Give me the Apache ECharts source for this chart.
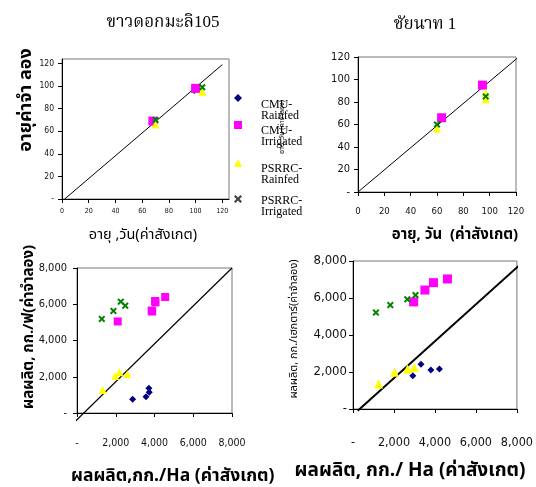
<!DOCTYPE html>
<html><head><meta charset="utf-8">
<script src="https://cdn.jsdelivr.net/npm/echarts@6/dist/echarts.min.js"></script>
<style>html,body{margin:0;padding:0;background:#fff}#c{width:536px;height:487px}</style>
</head><body><div id="c"></div>
<script>
// ---------- DATA ----------
const seriesNames = ['CMU-Rainfed', 'CMU-Irrigated', 'PSRRC-Rainfed', 'PSRRC-Irrigated'];
const legendLines = [['CMU-', 'Rainfed'], ['CMU-', 'Irrigated'], ['PSRRC-', 'Rainfed'], ['PSRRC-', 'Irrigated']];

// Age (days), ขาวดอกมะลิ105 : [observed, simulated]
const ageKDML_cmuRainfed = [[69, 68], [99, 96]];
const ageKDML_cmuIrrigated = [[68, 69], [100, 98]];
const ageKDML_psrrcRainfed = [[70, 66], [105, 95]];
const ageKDML_psrrcIrrigated = [[70, 70], [105, 99]];
const ageKDML_line = [[2, 0], [120, 119]];

// Age (days), ชัยนาท 1
const ageCN_cmuRainfed = [];
const ageCN_cmuIrrigated = [[63.5, 66], [94.5, 95]];
const ageCN_psrrcRainfed = [[60, 56.5], [97, 82.5], [97, 88]];
const ageCN_psrrcIrrigated = [[60, 60], [97, 85]];
const ageCN_line = [[0, 0], [122, 120]];

// Yield (kg/ha), ขาวดอกมะลิ105
const yldKDML_cmuRainfed = [[2870, 760], [3560, 900], [3710, 1360], [3730, 1140]];
const yldKDML_cmuIrrigated = [[2100, 5050], [3850, 5650], [3880, 5600], [4050, 6100], [4030, 6180], [4550, 6400]];
const yldKDML_psrrcRainfed = [[1330, 1270], [1970, 2040], [2190, 2250], [2600, 2140]];
const yldKDML_psrrcIrrigated = [[1280, 5190], [1880, 5630], [2260, 6140], [2490, 5920]];
const yldKDML_line = [[-400, -780], [8000, 8000]];

// Yield (kg/ha), ชัยนาท 1
const yldCN_cmuRainfed = [[2920, 1800], [3320, 2420], [3800, 2110], [4220, 2160]];
const yldCN_cmuIrrigated = [[2960, 5790], [3510, 6430], [3930, 6830], [4610, 7030]];
const yldCN_psrrcRainfed = [[1250, 1350], [2030, 1990], [2660, 2160], [2990, 2250]];
const yldCN_psrrcIrrigated = [[1120, 5210], [1820, 5620], [2650, 5930], [3050, 6160]];
const yldCN_line = [[230, -90], [8080, 7730]];

const ageTicks = [0, 20, 40, 60, 80, 100, 120];
const yieldTicks = [0, 2000, 4000, 6000, 8000];

// ---------- STYLE ----------
const NARROW = "'Liberation Sans Narrow','Arial Narrow','DejaVu Sans Condensed',sans-serif";
const THAI = "'Noto Sans Thai','Noto Sans Thai UI','Loma','Garuda','Noto Sans',sans-serif";
const SERIF = "'Liberation Serif','Noto Serif Thai','Noto Serif',serif";
const COLORS = ['#000080', '#ff00ff', '#ffff00', '#008000'];
const SYMBOLS = ['diamond', 'rect', 'triangle', 'path://M0,2L2,0L5,3L8,0L10,2L7,5L10,8L8,10L5,7L2,10L0,8L3,5Z'];
const SIZES = [[7, 9, 8, 7], [7, 9, 8, 7], [7, 8, 8, 7], [7, 9, 9, 7]];

const fmtAge = (dash) => v => (v === 0 && dash) ? '-' : String(v);
const fmtYield = v => v === 0 ? '-' : v.toLocaleString('en-US');

function mkAxis(grid, max, ticks, fmt, size, margin) {
  return {
    type: 'value', gridIndex: grid, min: 0, max: max,
    splitLine: { show: false },
    axisLine: { onZero: false, lineStyle: { color: '#000', width: 1 } },
    axisTick: { customValues: ticks, length: 4, lineStyle: { color: '#000' } },
    axisLabel: { customValues: ticks, formatter: fmt, fontFamily: NARROW, fontSize: size, color: '#111', margin: margin }
  };
}

const groups = [
  [ageKDML_cmuRainfed, ageKDML_cmuIrrigated, ageKDML_psrrcRainfed, ageKDML_psrrcIrrigated, ageKDML_line, 1],
  [ageCN_cmuRainfed, ageCN_cmuIrrigated, ageCN_psrrcRainfed, ageCN_psrrcIrrigated, ageCN_line, 1],
  [yldKDML_cmuRainfed, yldKDML_cmuIrrigated, yldKDML_psrrcRainfed, yldKDML_psrrcIrrigated, yldKDML_line, 1.2],
  [yldCN_cmuRainfed, yldCN_cmuIrrigated, yldCN_psrrcRainfed, yldCN_psrrcIrrigated, yldCN_line, 2]
];

const series = [];
groups.forEach((g, gi) => {
  series.push({
    type: 'line', xAxisIndex: gi, yAxisIndex: gi, data: g[4], symbol: 'none', clip: false,
    lineStyle: { color: '#000', width: g[5] }, silent: true, z: 1
  });
  for (let k = 0; k < 4; k++) {
    series.push({
      type: 'scatter', name: seriesNames[k], xAxisIndex: gi, yAxisIndex: gi, data: g[k],
      symbol: SYMBOLS[k], symbolSize: SIZES[gi][k],
      itemStyle: { color: COLORS[k], opacity: 1 }, z: 2 + k
    });
  }
});

const legendY = [98, 125, 163, 199];
const legends = seriesNames.map((n, k) => ({
  data: [k === 3 ? { name: n, itemStyle: { color: '#444' } } : n],
  left: 234, top: legendY[k] - 4, itemWidth: 8, itemHeight: 8,
  formatter: () => '', textStyle: { fontSize: 1 }, padding: 0, itemGap: 0
}));

const graphics = [];
function txt(x, y, text, font, size, weight, rot, align) {
  graphics.push({
    type: 'text', x: x, y: y, rotation: rot || 0,
    style: { text: text, fontFamily: font, fontSize: size, fontWeight: weight || 'normal', fill: '#000',
             align: align || 'center', verticalAlign: 'middle' }
  });
}
txt(163, 23, 'ขาวดอกมะลิ105', SERIF, 17);
txt(425, 25, 'ชัยนาท 1', SERIF, 17);
txt(143, 236, 'อายุ ,วัน(ค่าสังเกต)', THAI, 14.5);
txt(455, 236, 'อายุ, วัน  (ค่าสังเกต)', THAI, 15, 'bold');
txt(27, 100, 'อายุค่าจำ ลอง', THAI, 18, 'bold', Math.PI / 2);
txt(283, 127, 'อายุ, วัน (ค่าจำลอง)', THAI, 7, 'normal', Math.PI / 2);
txt(30, 327, 'ผลผลิต, กก./ฟ(ค่าจำลอง)', THAI, 15, 'bold', Math.PI / 2);
txt(295, 329, 'ผลผลิต, กก./เฮกตาร์(ค่าจำลอง)', THAI, 11, 'normal', Math.PI / 2);
txt(71, 477, 'ผลผลิต,กก./Ha (ค่าสังเกต)', THAI, 17.5, 'bold', 0, 'left');
txt(410, 472, 'ผลผลิต, กก./ Ha (ค่าสังเกต)', THAI, 19, 'bold');
legendLines.forEach((ln, k) => {
  const ty = [104, 130, 168, 200][k];
  graphics.push({ type: 'text', x: 261, y: ty - 5, style: { text: ln[0] + '\n' + ln[1], fontFamily: SERIF, fontSize: 12, lineHeight: 11, fill: '#000', align: 'left', verticalAlign: 'top' } });
});

const chart = echarts.init(document.getElementById('c'), null, { renderer: 'canvas' });
chart.setOption({
  animation: false,
  backgroundColor: '#fff',
  grid: [
    { left: 62, top: 59, width: 167, height: 140, show: true, borderColor: '#777', borderWidth: 1 },
    { left: 358, top: 57, width: 158, height: 135, show: true, borderColor: '#777', borderWidth: 1 },
    { left: 77, top: 268, width: 155, height: 145, show: true, borderColor: '#777', borderWidth: 1 },
    { left: 353, top: 261, width: 164, height: 148, show: true, borderColor: '#777', borderWidth: 1 }
  ],
  xAxis: [
    mkAxis(0, 125, ageTicks, fmtAge(false), 7, 9),
    mkAxis(1, 120, ageTicks, fmtAge(false), 9.5, 15),
    mkAxis(2, 8000, yieldTicks, fmtYield, 10.5, 25),
    mkAxis(3, 8000, yieldTicks, fmtYield, 12.5, 27)
  ],
  yAxis: [
    mkAxis(0, 124, ageTicks, fmtAge(true), 8.5, 8),
    mkAxis(1, 120, ageTicks, fmtAge(true), 11, 8),
    mkAxis(2, 8000, yieldTicks, fmtYield, 11, 10),
    mkAxis(3, 8000, yieldTicks, fmtYield, 13, 6)
  ],
  legend: legends,
  graphic: graphics,
  series: series
});
</script></body></html>
